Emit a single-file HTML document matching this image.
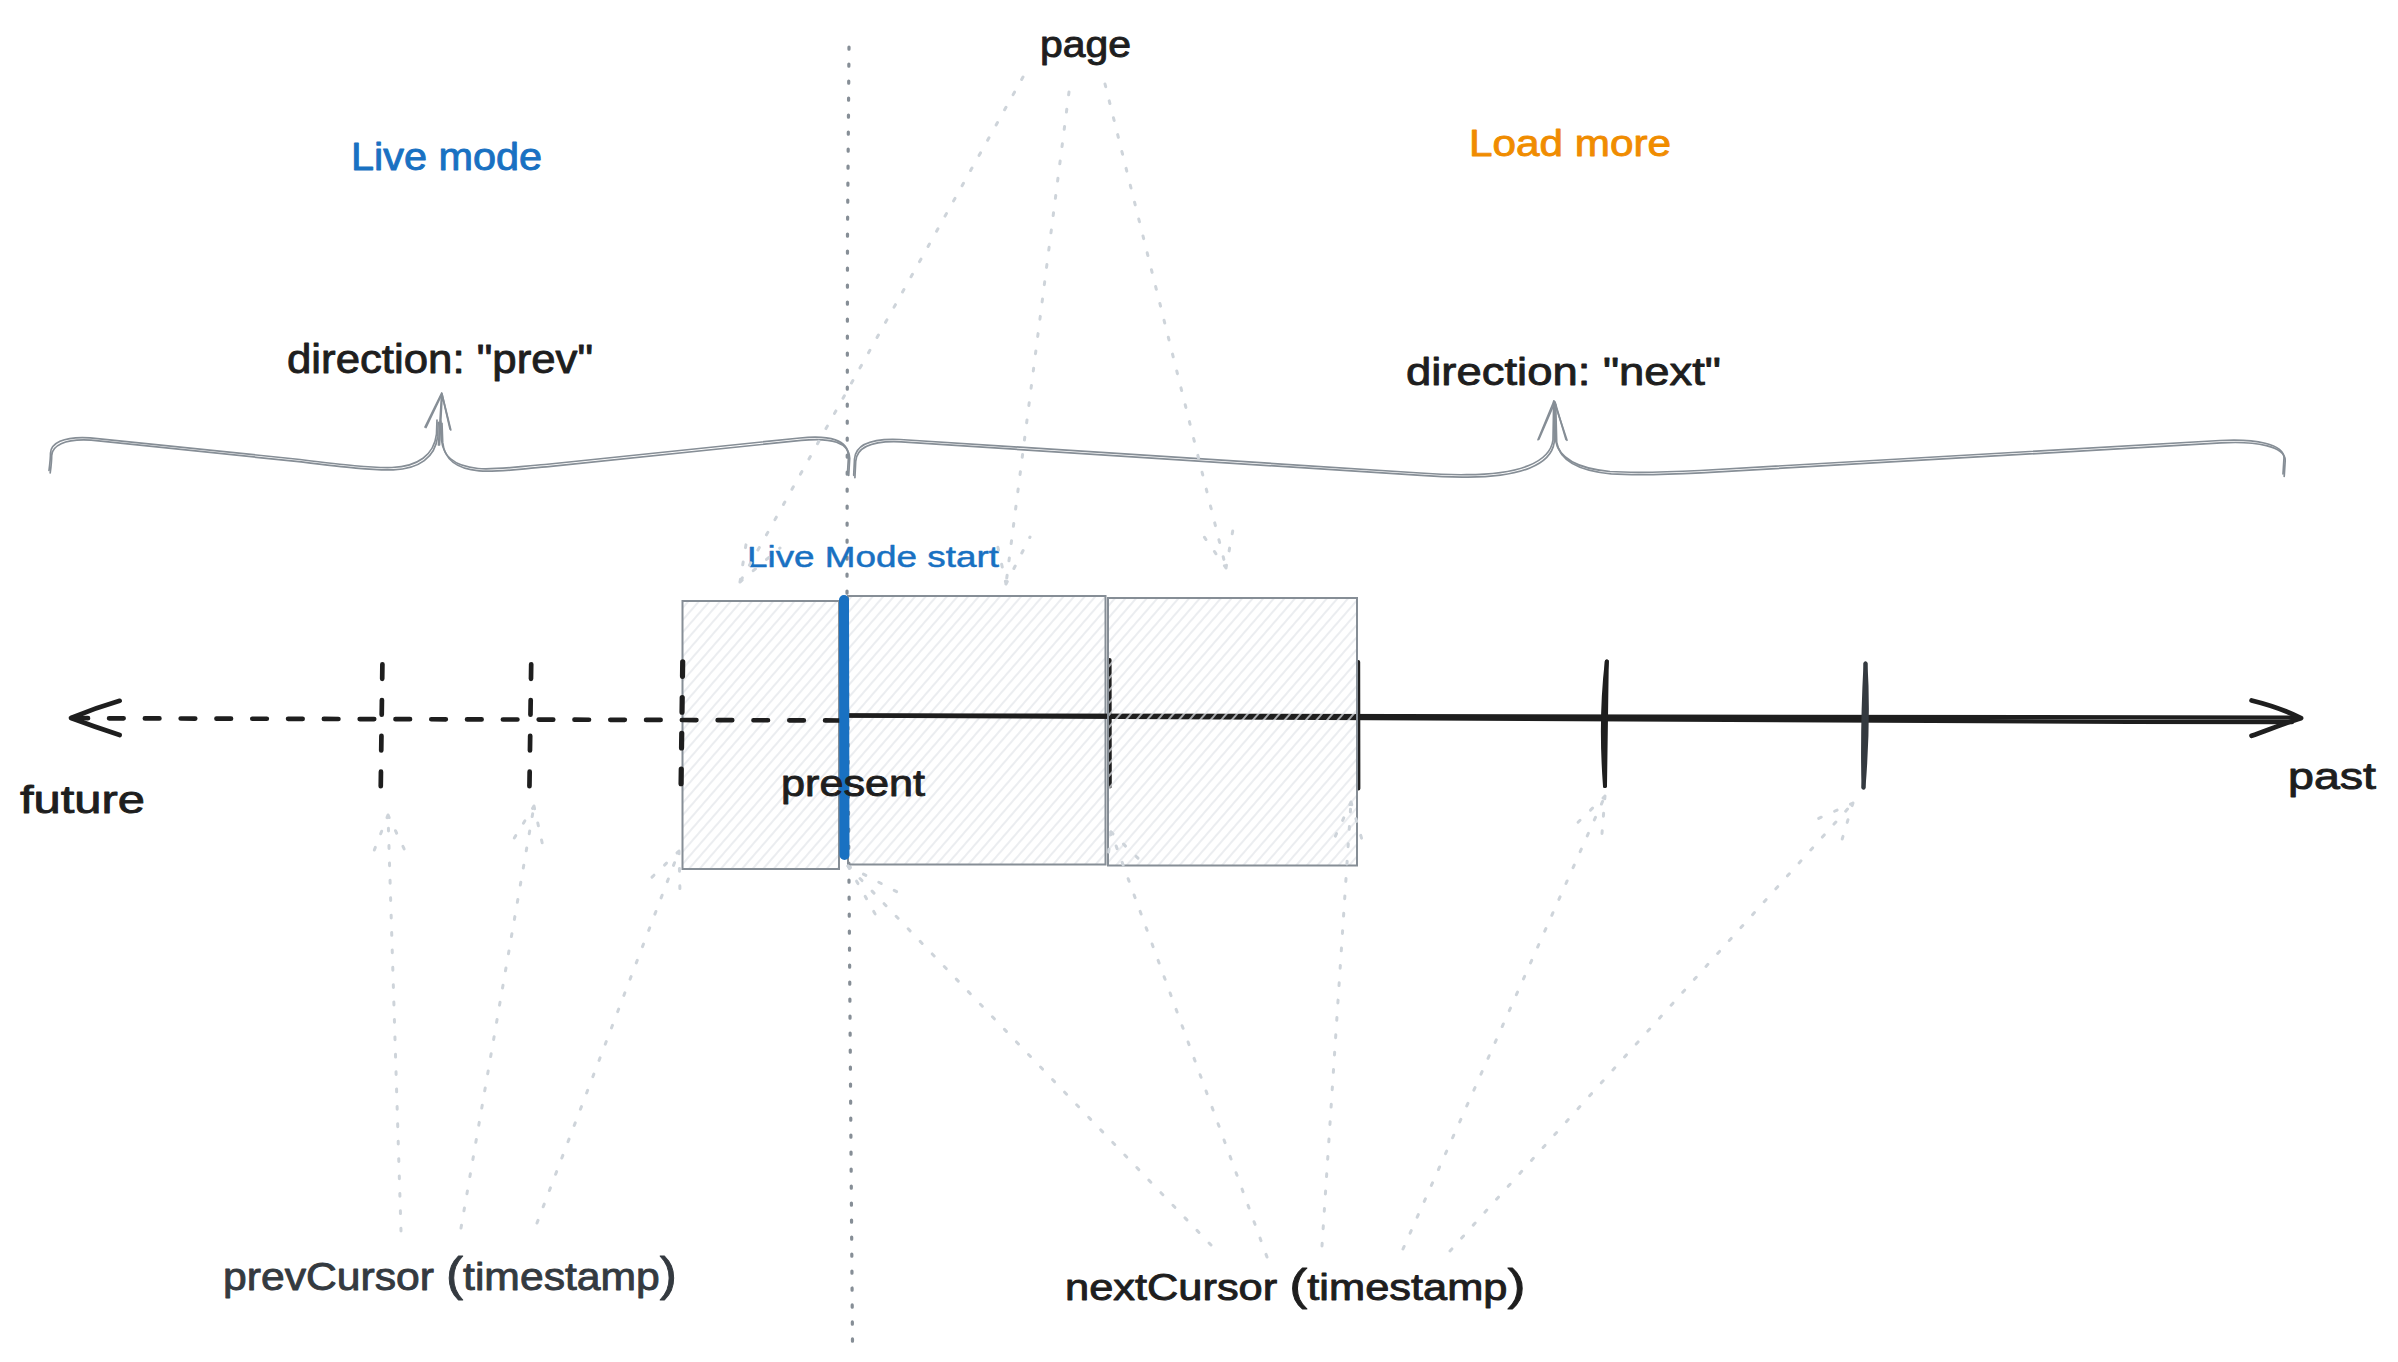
<!DOCTYPE html>
<html><head><meta charset="utf-8"><style>
html,body{margin:0;padding:0;background:#ffffff;overflow:hidden;}
svg{display:block;}
text{font-family:"Liberation Sans",sans-serif;}
</style></head><body>
<svg width="2398" height="1362" viewBox="0 0 2398 1362">
<defs>
<pattern id="hatch" patternUnits="userSpaceOnUse" width="8" height="8" patternTransform="rotate(41)">
<line x1="2" y1="0" x2="2" y2="8" stroke="#e2e6ea" stroke-width="1.4"/>
</pattern>
</defs>
<rect width="2398" height="1362" fill="#ffffff"/>

<!-- boxes 1 & 2 (below timeline) -->
<g id="boxes12">
<rect x="682.5" y="601" width="156.5" height="268" fill="url(#hatch)" stroke="#868e96" stroke-width="2"/>
<rect x="848" y="596" width="257.5" height="268.5" fill="url(#hatch)" stroke="#868e96" stroke-width="2"/>
</g>

<!-- timeline -->
<g id="timeline" stroke="#1e1e1e" fill="none" stroke-linecap="round" stroke-linejoin="round">
<path d="M109.1,718.3 L845,720.5" stroke-width="4.7" stroke-dasharray="14.5 21.3"/>
<path d="M72,718 L88,718.2" stroke-width="4.7"/>
<path d="M119.7,700.8 Q95,708 71,718 Q95,727 119.7,735" stroke-width="4.7"/>
<path d="M845,715.3 L2298,717.6" stroke-width="4.3"/>
<path d="M845,715.6 C1100,716 1600,719 2130,721.8 L2292,722.2" stroke-width="4.2"/>
<path d="M2251.6,700.5 C2268,704.5 2285,710 2301,718.2 C2285,723 2268,730 2251.6,735.8" stroke-width="4.8"/>
<path d="M382.4,664.3 L380.7,790" stroke-width="4.7" stroke-dasharray="14.5 21.3"/>
<path d="M531.2,664.3 L529.4,790" stroke-width="4.7" stroke-dasharray="14.5 21.3"/>
<path d="M682.7,661.8 L681,788" stroke-width="5.2" stroke-dasharray="14.5 21.3"/>
<path d="M1109.6,660 L1109.8,786.5" stroke-width="4"/>
<path d="M1358.2,662 L1358.4,788.5" stroke-width="4"/>
<path d="M1606.8,661.5 L1605,786" stroke-width="4"/>
<path d="M1606.8,661.5 Q1600,720 1605,786" stroke-width="4"/>
<path d="M1865.5,663.5 Q1869,720 1863.5,787.5" stroke-width="4" stroke="#343a40"/>
<path d="M1865.5,663.5 Q1862,730 1863.5,787.5" stroke-width="4" stroke="#343a40"/>
</g>

<!-- box 3 (above timeline) -->
<rect x="1108" y="598" width="249" height="267.5" fill="url(#hatch)" stroke="#868e96" stroke-width="2"/>

<!-- vertical dotted separator -->
<path d="M849,47 L847.5,235 L847.3,400 L847,600 L849,880 L851,1150 L852.5,1343" fill="none" stroke="#868e96" stroke-width="3.2" stroke-linecap="round" stroke-dasharray="2.2 14.8"/>
<!-- blue live mode line -->
<path d="M844,600 L844.5,855" stroke="#1971c2" stroke-width="10" stroke-linecap="round"/>


<!-- braces -->
<g fill="none" stroke="#868e96" stroke-width="1.7" stroke-linecap="round" stroke-linejoin="round">
<g id="brc">
<path d="M49,470.5 C50,463 50.5,458 50.5,453 C51,444 62,436 90,437.8 L300,459.5 C345,465 370,468 392,467.5 C418,466.5 434,455 436.5,434 L437,420"/>
<path d="M440.8,421 L441.5,440 C443,455 452,466 478,468.5 C495,470 515,467 545,464.5 L800,438 C830,435 848,440 848.5,456 L847.5,473"/>
<path d="M853.7,475.3 L854.5,459 C855.5,446 868,438 900,439.5 L1420,473 Q1445,475 1466.7,474.7 C1520,474.5 1550,462 1553,440 L1553.7,401"/>
<path d="M1554.5,402 L1555.5,440 C1558,455 1572,468 1610,471.5 Q1640,473.5 1700,470.5 L2220,440.5 C2255,438.5 2284,444 2284,458 L2283,474"/>
</g>
<use href="#brc" transform="translate(1.2,2.4)"/>
<path d="M438.5,445 L441.7,393 M425,427 L441.7,393 L450.8,430"/>
<path d="M439.5,445 L442.2,394 M426,427.5 L442,394 L450,429"/>
<path d="M1538,439.7 L1554,401 L1567,440.3"/>
<path d="M1539,439 L1555,402 L1566,439.5"/>
</g>

<!-- texts -->
<g stroke-width="0.9" stroke-linejoin="round">
<text x="1040" y="57" font-size="36" fill="#1e1e1e" stroke="#1e1e1e" textLength="91" lengthAdjust="spacingAndGlyphs">page</text>
<text x="351" y="170" font-size="38" fill="#1971c2" stroke="#1971c2" textLength="191" lengthAdjust="spacingAndGlyphs">Live mode</text>
<text x="1469" y="156" font-size="37" fill="#f08c00" stroke="#f08c00" textLength="202" lengthAdjust="spacingAndGlyphs">Load more</text>
<text x="287" y="372.5" font-size="40" fill="#1e1e1e" stroke="#1e1e1e" textLength="306" lengthAdjust="spacingAndGlyphs">direction: "prev"</text>
<text x="1406" y="384.7" font-size="39" fill="#1e1e1e" stroke="#1e1e1e" textLength="315" lengthAdjust="spacingAndGlyphs">direction: "next"</text>
<text x="747" y="567" font-size="30" fill="#1971c2" stroke="#1971c2" stroke-width="0.5" textLength="252" lengthAdjust="spacingAndGlyphs">Live Mode start</text>
<text x="20" y="813" font-size="39" fill="#1e1e1e" stroke="#1e1e1e" textLength="125" lengthAdjust="spacingAndGlyphs">future</text>
<text x="781" y="796" font-size="37" fill="#1e1e1e" stroke="#1e1e1e" textLength="144" lengthAdjust="spacingAndGlyphs">present</text>
<text x="2288" y="789" font-size="36" fill="#1e1e1e" stroke="#1e1e1e" textLength="88" lengthAdjust="spacingAndGlyphs">past</text>
<text x="223" y="1289.5" font-size="39" fill="#343a40" stroke="#343a40" textLength="454" lengthAdjust="spacingAndGlyphs">prevCursor <tspan font-size="47">(</tspan>timestamp<tspan font-size="47">)</tspan></text>
<text x="1065" y="1299.6" font-size="36" fill="#1e1e1e" stroke="#1e1e1e" textLength="460.5" lengthAdjust="spacingAndGlyphs">nextCursor <tspan font-size="45">(</tspan>timestamp<tspan font-size="45">)</tspan></text>
</g>
<!-- light dotted arrows -->
<g fill="none" stroke="#ced4da" stroke-width="3" stroke-linecap="round" stroke-dasharray="2.8 14.6">
<!-- page -->
<path d="M1023,77 L740,582"/>
<path d="M740,582 L748,532 M740,582 L780,548"/>
<path d="M1069,92 L1006,584"/>
<path d="M1006,584 L995,534 M1006,584 L1030,537"/>
<path d="M1105,84 L1226,568"/>
<path d="M1226,568 L1200,531 M1226,568 L1234,524"/>
<!-- prev cursor -->
<path d="M401,1231 L388,815"/>
<path d="M388,815 L372,856 M388,815 L407,855"/>
<path d="M461,1228 L534,806"/>
<path d="M534,806 L510,845 M534,806 L544,851"/>
<path d="M537,1223 L679,851"/>
<path d="M679,851 L647,882 M679,851 L680,893"/>
<!-- next cursor -->
<path d="M1211,1245 L848,866"/>
<path d="M848,866 L903,895 M848,866 L878,919"/>
<path d="M1267,1257 L1111,832"/>
<path d="M1111,832 L1107,866 M1111,832 L1143,863"/>
<path d="M1322,1246 L1351,802"/>
<path d="M1351,802 L1330,848 M1351,802 L1365,850"/>
<path d="M1403,1249 L1605,796"/>
<path d="M1605,796 L1569,831 M1605,796 L1601,846"/>
<path d="M1450,1251 L1853,803"/>
<path d="M1853,803 L1815,820 M1853,803 L1841,843"/>
</g>

</svg>
</body></html>
